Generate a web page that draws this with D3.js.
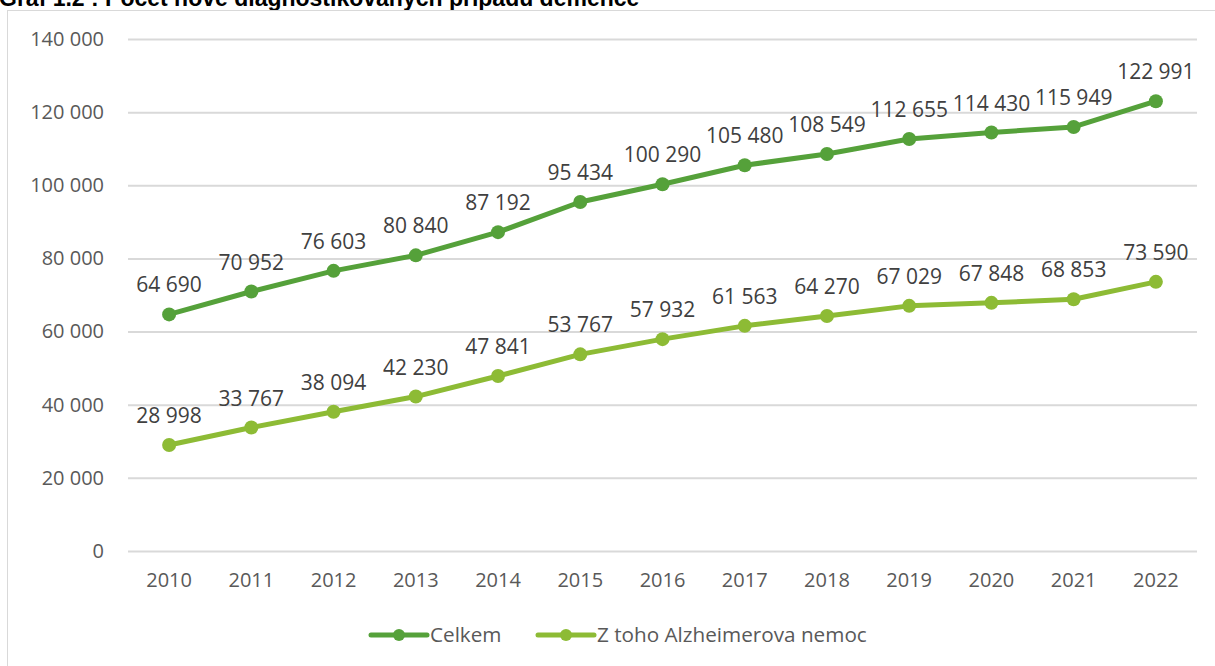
<!DOCTYPE html>
<html>
<head>
<meta charset="utf-8">
<script src="https://cdn.jsdelivr.net/npm/d3@7"></script>
<style>
  body { margin: 0; background: #fff; }
  svg { display: block; font-family: 'Open Sans', sans-serif; }
</style>
</head>
<body>
<script>
const years = ['2010', '2011', '2012', '2013', '2014', '2015', '2016', '2017', '2018', '2019', '2020', '2021', '2022'];
const celkem = [64690, 70952, 76603, 80840, 87192, 95434, 100290, 105480, 108549, 112655, 114430, 115949, 122991];
const alzheimer = [28998, 33767, 38094, 42230, 47841, 53767, 57932, 61563, 64270, 67029, 67848, 68853, 73590];
const yTicks = [0, 20000, 40000, 60000, 80000, 100000, 120000, 140000];
const seriesNames = ['Celkem', 'Z toho Alzheimerova nemoc'];

const series = [
  { name: seriesNames[0], values: celkem, color: '#55a13a' },
  { name: seriesNames[1], values: alzheimer, color: '#8dbb35' }
];

const w = 1215;
const h = 666;

// number format with space as thousands separator
const fmt = d3.formatLocale({ decimal: ',', thousands: ' ', grouping: [3], currency: ['', ''] }).format(',d');

const svg = d3.select('body').append('svg').attr('width', w).attr('height', h);

// title, cut off by the top of the picture as in the source
svg.append('text')
  .attr('x', -1)
  .attr('y', 6)
  .attr('font-family', 'Liberation Sans, Arial, sans-serif')
  .attr('font-weight', 'bold')
  .attr('font-size', 23)
  .attr('fill', '#000')
  .text('Graf 1.2 : Počet nově diagnostikovaných případů demence');

// chart frame
svg.append('rect')
  .attr('x', 7.5)
  .attr('y', 10.5)
  .attr('width', 1400)
  .attr('height', 1000)
  .attr('fill', '#fff')
  .attr('stroke', '#d9d9d9');

const xScale = d3.scaleBand().domain(years).range([128, 1197]);
const yScale = d3.scaleLinear().domain([0, 140000]).range([551, 39]);
const cx = d => xScale(d) + xScale.bandwidth() / 2;

// gridlines + y labels
const yAxis = svg.append('g')
  .attr('transform', 'translate(128,0)')
  .call(d3.axisLeft(yScale).tickValues(yTicks).tickFormat(fmt).tickSize(-(1197 - 128)).tickPadding(24));
yAxis.select('.domain').remove();
yAxis.selectAll('line').attr('stroke', '#d9d9d9').attr('stroke-width', 2);
yAxis.selectAll('text')
  .attr('font-size', 20)
  .attr('fill', '#595959')
  .attr('font-family', 'Open Sans, sans-serif');

// x labels
const xAxis = svg.append('g')
  .attr('transform', 'translate(0,551)')
  .call(d3.axisBottom(xScale).tickSize(0).tickPadding(22));
xAxis.select('.domain').remove();
xAxis.selectAll('text')
  .attr('font-size', 20)
  .attr('fill', '#595959')
  .attr('font-family', 'Open Sans, sans-serif');

const line = d3.line()
  .x((d, i) => cx(years[i]))
  .y(d => yScale(d));

series.forEach(s => {
  const g = svg.append('g');
  g.append('path')
    .datum(s.values)
    .attr('d', line)
    .attr('fill', 'none')
    .attr('stroke', s.color)
    .attr('stroke-width', 5)
    .attr('stroke-linejoin', 'round');
  g.selectAll('circle')
    .data(s.values)
    .enter()
    .append('circle')
    .attr('cx', (d, i) => cx(years[i]))
    .attr('cy', d => yScale(d))
    .attr('r', 7)
    .attr('fill', s.color);
  g.selectAll('text')
    .data(s.values)
    .enter()
    .append('text')
    .attr('x', (d, i) => cx(years[i]))
    .attr('y', d => yScale(d) - 22)
    .attr('text-anchor', 'middle')
    .attr('font-size', 21)
    .attr('fill', '#404040')
    .text(d => fmt(d));
});

// legend
const legendX = [371, 538];
const legend = svg.selectAll('.legend')
  .data(series)
  .enter()
  .append('g')
  .attr('class', 'legend')
  .attr('transform', (d, i) => 'translate(' + legendX[i] + ',635)');
legend.append('line')
  .attr('x1', 0).attr('x2', 56)
  .attr('stroke', d => d.color)
  .attr('stroke-width', 5)
  .attr('stroke-linecap', 'round');
legend.append('circle')
  .attr('cx', 28)
  .attr('r', 6)
  .attr('fill', d => d.color);
legend.append('text')
  .attr('x', 59)
  .attr('y', 7)
  .attr('font-size', 20.7)
  .attr('fill', '#595959')
  .text(d => d.name);
</script>
</body>
</html>
